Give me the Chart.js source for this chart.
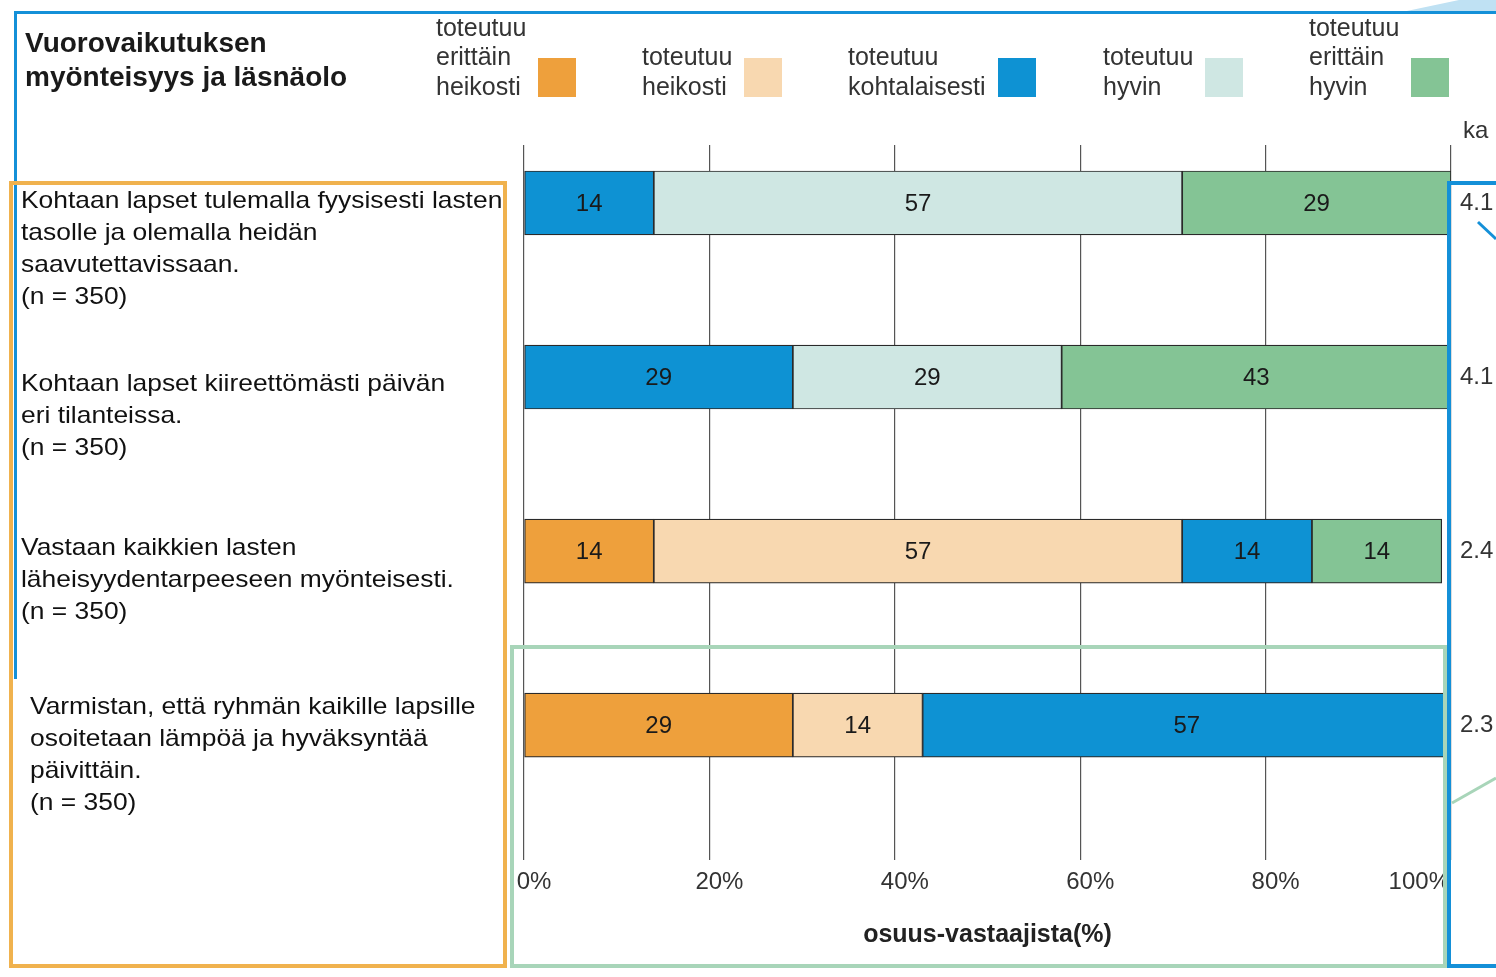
<!DOCTYPE html>
<html>
<head>
<meta charset="utf-8">
<script src="https://cdn.jsdelivr.net/npm/chart.js@4.4.0/dist/chart.umd.min.js"></script>
<style>
    body { margin: 0; width: 1496px; height: 977px; overflow: hidden; background: #fff;
           position: relative; font-family: "Liberation Sans", Arial, sans-serif; }
    #chart { position: absolute; left: 0; top: 0; }
    #title { position: absolute; left: 25px; top: 26px; font-weight: bold; font-size: 28px;
             line-height: 34px; color: #1a1a1a; }
    #legend { position: absolute; left: 0; top: 0; width: 1496px; height: 101px; }
    .item { position: absolute; bottom: 0; display: flex; align-items: flex-end; gap: 12px; }
    .item span { font-size: 25px; line-height: 29.5px; color: #333; white-space: pre-line; }
    .item i { display: block; width: 38px; height: 39px; margin-bottom: 4px; }
    .cat { position: absolute; font-size: 24px; line-height: 32px; color: #111; white-space: pre-line;
           transform: scaleX(1.1); transform-origin: 0 0; }
    #ka { position: absolute; left: 1463px; top: 116px; font-size: 24px; color: #333; }
    #frames { position: absolute; left: 0; top: 0; }
</style>
</head>
<body>
<canvas id="chart" width="1496" height="977"></canvas>
<div id="title">Vuorovaikutuksen<br>myönteisyys ja läsnäolo</div>
<div id="legend"></div>
<div id="labels"></div>
<div id="ka">ka</div>
<svg id="frames" width="1496" height="977">
    <polygon points="1459,0 1496,0 1496,12 1402,12" fill="#bfe1f3"/>
    <rect x="14" y="11" width="1482" height="3" fill="#1490d8"/>
    <rect x="14" y="11" width="3" height="668" fill="#1490d8"/>
    <rect x="11" y="183" width="494" height="783" fill="none" stroke="#f0b24e" stroke-width="4"/>
    <rect x="512" y="647" width="933" height="319" fill="none" stroke="#a8d5b9" stroke-width="4"/>
    <rect x="1449" y="183" width="60" height="783" fill="none" stroke="#1490d8" stroke-width="4"/>
    <line x1="1478" y1="222" x2="1496" y2="239" stroke="#1490d8" stroke-width="3"/>
    <line x1="1452" y1="803" x2="1496" y2="778" stroke="#a8d5b9" stroke-width="3"/>
</svg>
<script>
const categories = [
    "Kohtaan lapset tulemalla fyysisesti lasten\ntasolle ja olemalla heidän\nsaavutettavissaan.",
    "Kohtaan lapset kiireettömästi päivän\neri tilanteissa.",
    "Vastaan kaikkien lasten\nläheisyydentarpeeseen myönteisesti.",
    "Varmistan, että ryhmän kaikille lapsille\nosoitetaan lämpöä ja hyväksyntää\npäivittäin."
];
const respondents = [350, 350, 350, 350];
const averages = ["4.1", "4.1", "2.4", "2.3"];

const seriesNames = [
    "toteutuu\nerittäin\nheikosti",
    "toteutuu\nheikosti",
    "toteutuu\nkohtalaisesti",
    "toteutuu\nhyvin",
    "toteutuu\nerittäin\nhyvin"
];
const seriesColors = ["#eea03c", "#f8d8b0", "#0e92d3", "#cfe7e3", "#84c495"];

const veryWeak = [null, null, 14, 29];
const weak     = [null, null, 57, 14];
const moderate = [14, 29, 14, 57];
const good     = [57, 29, null, null];
const veryGood = [29, 43, 14, null];

const xTicks = [0, 20, 40, 60, 80, 100];

// layout only
const legendLeft = [436, 642, 848, 1103, 1309];
const labelPos = [[21, 184], [21, 367], [21, 531], [30, 690]];
const FONT = '"Liberation Sans", Arial, sans-serif';

const legend = document.getElementById("legend");
seriesNames.forEach((name, i) => {
    const it = document.createElement("div");
    it.className = "item";
    it.style.left = legendLeft[i] + "px";
    it.innerHTML = `<span>${name}</span><i style="background:${seriesColors[i]}"></i>`;
    legend.appendChild(it);
});

const labels = document.getElementById("labels");
categories.forEach((c, i) => {
    const d = document.createElement("div");
    d.className = "cat";
    d.style.left = labelPos[i][0] + "px";
    d.style.top = labelPos[i][1] + "px";
    d.textContent = `${c}\n(n = ${respondents[i]})`;
    labels.appendChild(d);
});

const lastTick = xTicks[xTicks.length - 1];

const valueLabels = {
    id: "valueLabels",
    afterDatasetsDraw(chart) {
        const ctx = chart.ctx;
        ctx.save();
        ctx.font = "24px " + FONT;
        ctx.fillStyle = "#1a1a1a";
        ctx.textAlign = "center";
        ctx.textBaseline = "middle";
        chart.data.datasets.forEach((ds, di) => {
            chart.getDatasetMeta(di).data.forEach((bar, i) => {
                const v = ds.data[i].x;
                if (v == null) return;
                const right = Math.min(bar.x, chart.chartArea.right);
                ctx.fillText(v, (right + bar.base) / 2, bar.y + 1);
            });
        });
        ctx.textAlign = "left";
        ctx.fillStyle = "#333";
        averages.forEach((a, i) => {
            ctx.fillText(a, chart.chartArea.right + 9, chart.scales.y.getPixelForValue(i));
        });
        ctx.restore();
    },
    afterDraw(chart) {
        // the last tick label is set flush right against its gridline
        const x = chart.scales.x;
        const ctx = chart.ctx;
        ctx.save();
        ctx.font = "24px " + FONT;
        ctx.fillStyle = "#333";
        ctx.textAlign = "right";
        ctx.textBaseline = "middle";
        ctx.fillText(lastTick + "%", x.getPixelForValue(lastTick) - 1, x.top + 8 + 14.4);
        ctx.restore();
    }
};

const series = [veryWeak, weak, moderate, good, veryGood];

new Chart(document.getElementById("chart"), {
    type: "bar",
    data: {
        datasets: series.map((vals, i) => ({
            label: seriesNames[i],
            data: vals.map((v, k) => ({ x: v, y: k })),
            backgroundColor: seriesColors[i],
            borderColor: "#2a2a2a",
            borderWidth: 1.2,
            borderSkipped: false,
            barThickness: 64
        }))
    },
    options: {
        indexAxis: "y",
        responsive: false,
        animation: false,
        events: [],
        layout: { padding: { left: 524, right: 45, top: 145, bottom: 20 } },
        plugins: { legend: { display: false }, tooltip: { enabled: false } },
        scales: {
            y: {
                type: "linear",
                stacked: true,
                reverse: true,
                offset: false,
                min: -0.333,
                max: 3.776,
                display: false
            },
            x: {
                type: "linear",
                stacked: true,
                min: 0,
                max: 100,
                afterBuildTicks: s => { s.ticks = xTicks.map(v => ({ value: v })); },
                grid: { color: "#555", lineWidth: 1.2, drawTicks: false },
                border: { display: false },
                ticks: {
                    callback: v => v + "%",
                    font: { family: FONT, size: 24 },
                    color: c => c.tick && c.tick.value === lastTick ? "rgba(0,0,0,0)" : "#333",
                    padding: 8,
                    labelOffset: 10,
                    maxRotation: 0
                },
                title: {
                    display: true,
                    text: "osuus-vastaajista(%)",
                    font: { family: FONT, size: 25, weight: "bold" },
                    color: "#222",
                    padding: { top: 15, bottom: 7 }
                }
            }
        }
    },
    plugins: [valueLabels]
});
</script>
</body>
</html>
